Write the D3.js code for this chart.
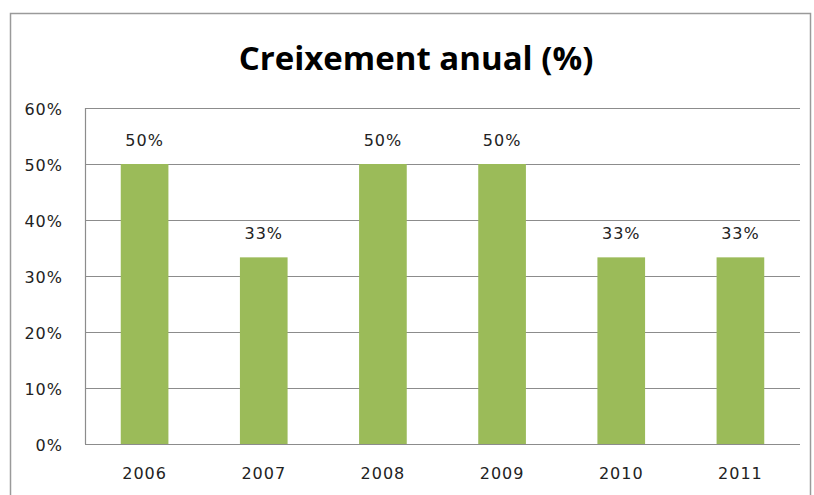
<!DOCTYPE html>
<html>
<head>
<meta charset="utf-8">
<script src="https://cdn.jsdelivr.net/npm/d3@7"></script>
<style>
  body { margin: 0; background: #fff; }
  svg { display: block; }
</style>
</head>
<body>
<div id="chart"></div>
<script>
const years = ['2006', '2007', '2008', '2009', '2010', '2011'];
const growth = [50, 33.33, 50, 50, 33.33, 33.33];
const labels = ['50%', '33%', '50%', '50%', '33%', '33%'];
const yTicks = [0, 10, 20, 30, 40, 50, 60];

const W = 814, H = 495;
const margin = { top: 108, right: 14, bottom: 51, left: 85 };
const width = W - margin.left - margin.right;
const height = H - margin.top - margin.bottom;

const svg = d3.select('#chart').append('svg')
  .attr('width', W)
  .attr('height', H);

// outer chart frame
svg.append('rect')
  .attr('x', 10.5).attr('y', 13.5)
  .attr('width', 800).attr('height', 500)
  .attr('fill', 'none')
  .attr('stroke', '#9a9a9a')
  .attr('stroke-width', 1.5);

svg.append('text')
  .attr('x', 416).attr('y', 70)
  .attr('text-anchor', 'middle')
  .attr('font-family', 'Open Sans, sans-serif')
  .attr('font-weight', 'bold')
  .attr('font-size', 33)
  .attr('fill', '#000')
  .text('Creixement anual (%)');

const g = svg.append('g')
  .attr('transform', `translate(${margin.left}, ${margin.top})`);

const x = d3.scaleBand()
  .domain(years)
  .range([0, width])
  .paddingInner(0.6)
  .paddingOuter(0.3);

const y = d3.scaleLinear()
  .domain([0, 60])
  .range([height, 0]);

// gridlines
g.append('g')
  .selectAll('line')
  .data(yTicks)
  .join('line')
  .attr('x1', 0).attr('x2', width)
  .attr('y1', d => Math.round(y(d)) + 0.5)
  .attr('y2', d => Math.round(y(d)) + 0.5)
  .attr('stroke', '#8c8c8c')
  .attr('stroke-width', 1.2);

// left axis line
g.append('line')
  .attr('x1', 0.5).attr('x2', 0.5)
  .attr('y1', 0).attr('y2', height)
  .attr('stroke', '#8c8c8c')
  .attr('stroke-width', 1.2);

const textStyle = sel => sel
  .attr('font-family', 'DejaVu Sans, sans-serif')
  .attr('font-size', 16)
  .attr('letter-spacing', 1)
  .attr('fill', '#222');

const yAxis = g.append('g')
  .call(d3.axisLeft(y).tickValues(yTicks).tickFormat(d => d + '%').tickSize(0).tickPadding(22));
yAxis.select('.domain').remove();
yAxis.selectAll('text').call(textStyle).attr('dy', '0.4em');

const xAxis = g.append('g')
  .attr('transform', `translate(0, ${height})`)
  .call(d3.axisBottom(x).tickSize(0).tickPadding(24));
xAxis.select('.domain').remove();
xAxis.selectAll('text').call(textStyle);

g.selectAll('.bar')
  .data(years)
  .join('rect')
  .attr('class', 'bar')
  .attr('x', d => x(d))
  .attr('width', x.bandwidth())
  .attr('y', (d, i) => y(growth[i]))
  .attr('height', (d, i) => height - y(growth[i]))
  .attr('fill', '#9bbb59');

g.selectAll('.value-label')
  .data(years)
  .join('text')
  .attr('class', 'value-label')
  .attr('x', d => x(d) + x.bandwidth() / 2)
  .attr('y', (d, i) => y(growth[i]) - 18)
  .attr('text-anchor', 'middle')
  .call(textStyle)
  .text((d, i) => labels[i]);
</script>
</body>
</html>
